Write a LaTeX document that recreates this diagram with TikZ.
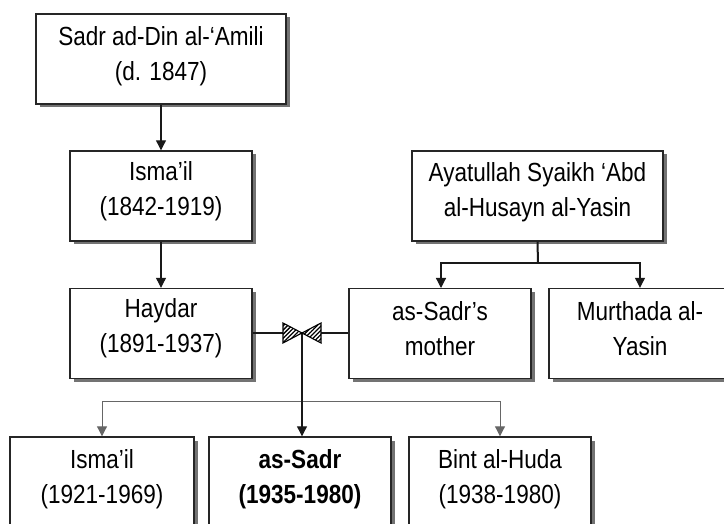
\documentclass[tikz,border=0pt]{standalone}
\usepackage{fontspec}
\setmainfont{Liberation Sans}[FakeStretch=0.86]
\usetikzlibrary{arrows.meta,shadows,patterns.meta}
\begin{document}
\begin{tikzpicture}[x=1pt,y=-1pt,
  person/.style={draw=black!85,line width=1.4pt,fill=white,rectangle,
    minimum height=90pt,inner sep=0pt,
    drop shadow={shadow xshift=3.5pt,shadow yshift=-3.5pt,fill=black!55,opacity=1}},
  who/.style={align=center,inner sep=0pt,font=\fontsize{26.2}{35}\selectfont},
  link/.style={draw=black!90,line width=1.1pt,-{Triangle[width=10pt,length=10pt]}},
  branch/.style={draw=black!60,line width=1pt},
  tie/.style={draw=black!90,line width=1.4pt},
  bowtie/.style={draw=black,line width=1.1pt,fill=white,
    postaction={pattern={Lines[angle=45,distance=3pt,line width=1.3pt]}}}]
\useasboundingbox (0,0) rectangle (724,524);

% ancestors on the father's side
\node[person,minimum width=250pt] (b1) at (161,59) {};
\node[who] (t1) at (161,56) {Sadr ad-Din al-‘Amili\\(d. 1847)};
\node[person,minimum width=182pt] (b2) at (161,196) {};
\node[who] (t2) at (161,191.5) {Isma’il\\(1842-1919)};
\node[person,minimum width=182pt] (b3) at (161,333.5) {};
\node[who] (t3) at (161,328.5) {Haydar\\(1891-1937)};

% the mother's family
\node[person,minimum width=251pt] (b4) at (537.5,196) {};
\node[who] (t4) at (537.5,192) {Ayatullah Syaikh ‘Abd\\al-Husayn al-Yasin};
\node[person,minimum width=182pt] (b5) at (440,333.5) {};
\node[who] (t5) at (440,328.5) {as-Sadr’s\\mother};
\node[person,minimum width=182pt] (b6) at (640,333.5) {};
\node[who] (t6) at (640,328.5) {Murthada al-\\Yasin};

% children
\node[person,minimum width=184pt] (b7) at (102,482) {};
\node[who] (t7) at (102,479) {Isma’il\\(1921-1969)};
\node[person,minimum width=182pt] (b8) at (300,482) {};
\node[who,font=\fontsize{26.2}{35}\selectfont\bfseries] (t8) at (300,479) {as-Sadr\\(1935-1980)};
\node[person,minimum width=182pt] (b9) at (500,482) {};
\node[who] (t9) at (500,479) {Bint al-Huda\\(1938-1980)};

% descent lines
\draw[link] (b1.south) -- (b2.north);
\draw[link] (b2.south) -- (b3.north);

\coordinate (fork) at (538,263);
\draw[tie,line width=2pt] (b4.south) -- (fork);
\draw[link,line width=1.2pt] (fork) -| (441,288);
\draw[link,line width=1.2pt] (fork) -| (b6.north);

% marriage and its children
\coordinate (bow) at (302,333);
\draw[tie] (b3.east |- bow) -- (b5.west |- bow);
\coordinate (split) at (302,401);
\draw[branch] (b7.north |- split) -- (b9.north |- split);
\draw[link,draw=black!60,line width=1pt] (split) -| (b7.north);
\draw[link,draw=black!60,line width=1pt] (split) -| (b9.north);
\draw[link] (bow) -- (bow |- b8.north);
\draw[bowtie,shift={(bow)}] (-19,-10) -- (-19,10) -- (0,0) -- cycle;
\draw[bowtie,shift={(bow)}] (19,-10) -- (19,10) -- (0,0) -- cycle;
\end{tikzpicture}
\end{document}
